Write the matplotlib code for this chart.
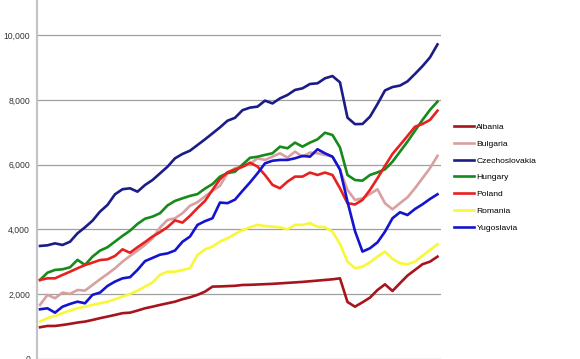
import matplotlib
matplotlib.use("Agg")
import matplotlib.pyplot as plt
from matplotlib.ticker import FuncFormatter

years = list(range(1950, 2004))

albania = [980, 1020, 1020, 1050, 1085, 1125, 1155, 1205, 1260, 1310,
           1360, 1415, 1430, 1495, 1565, 1615, 1670, 1720, 1770, 1845,
           1905, 1980, 2080, 2235, 2240, 2250, 2260, 2285, 2290, 2300,
           2310, 2320, 2335, 2350, 2365, 2380, 2400, 2420, 2440, 2460,
           2490, 1760, 1615, 1750, 1895, 2130, 2305, 2100, 2340, 2575,
           2750, 2925, 3005, 3160]
bulgaria = [1670, 1980, 1875, 2050, 2010, 2130, 2110, 2285, 2460, 2625,
            2800, 3005, 3180, 3345, 3520, 3720, 4060, 4290, 4345, 4500,
            4730, 4840, 5020, 5190, 5350, 5735, 5890, 5950, 6020, 6195,
            6145, 6245, 6350, 6215, 6400, 6245, 6370, 6350, 6300, 6245,
            5835, 5220, 4910, 4960, 5095, 5240, 4810, 4620, 4810, 4990,
            5270, 5580, 5890, 6270]
czechoslovakia = [3490, 3510, 3570, 3520, 3620, 3880, 4065, 4270, 4550, 4755,
                  5085, 5240, 5270, 5165, 5370, 5525, 5730, 5935, 6195, 6330,
                  6430, 6605, 6780, 6965, 7150, 7355, 7445, 7680, 7760, 7790,
                  7975, 7890, 8045, 8150, 8305, 8355, 8490, 8510, 8665, 8735,
                  8540, 7450, 7250, 7255, 7480, 7870, 8290, 8395, 8440, 8570,
                  8800, 9040, 9310, 9710]
hungary = [2440, 2665, 2750, 2770, 2830, 3060, 2905, 3160, 3345, 3450,
           3625, 3800, 3960, 4170, 4330, 4395, 4500, 4740, 4880, 4960,
           5035, 5090, 5260, 5400, 5630, 5740, 5780, 6000, 6210, 6245,
           6300, 6350, 6555, 6505, 6680, 6555, 6680, 6780, 6985, 6915,
           6530, 5680, 5525, 5505, 5680, 5760, 5855, 6090, 6400, 6710,
           7045, 7380, 7690, 7945]
poland = [2440, 2490, 2490, 2595, 2695, 2800, 2900, 2975, 3055, 3075,
          3180, 3385, 3280, 3450, 3610, 3780, 3915, 4070, 4280, 4210,
          4420, 4660, 4880, 5220, 5550, 5765, 5850, 5930, 6060, 5940,
          5680, 5375, 5270, 5475, 5630, 5630, 5755, 5680, 5755, 5680,
          5270, 4810, 4770, 4910, 5220, 5580, 5960, 6330, 6605, 6885,
          7170, 7255, 7380, 7665]
romania = [1155, 1260, 1330, 1415, 1495, 1565, 1615, 1670, 1720, 1770,
           1845, 1925, 2010, 2110, 2235, 2360, 2595, 2695, 2695, 2750,
           2800, 3210, 3385, 3470, 3625, 3725, 3860, 3975, 4065, 4140,
           4105, 4085, 4065, 4005, 4140, 4140, 4190, 4085, 4065, 3930,
           3550, 3005, 2800, 2850, 2985, 3160, 3315, 3090, 2955, 2925,
           3005, 3190, 3365, 3540]
yugoslavia = [1535, 1565, 1430, 1615, 1700, 1770, 1720, 1980, 2050, 2255,
              2390, 2490, 2525, 2750, 3020, 3120, 3220, 3260, 3350, 3620,
              3780, 4140, 4255, 4345, 4830, 4810, 4920, 5190, 5450, 5730,
              6040, 6120, 6145, 6145, 6195, 6270, 6245, 6475, 6350, 6245,
              5850, 4860, 3950, 3315, 3420, 3600, 3930, 4345, 4530, 4445,
              4630, 4775, 4940, 5085]

series = [
    ("Albania", albania, "#a8141c"),
    ("Bulgaria", bulgaria, "#d8a0a0"),
    ("Czechoslovakia", czechoslovakia, "#1c1c86"),
    ("Hungary", hungary, "#168a1a"),
    ("Poland", poland, "#e82020"),
    ("Romania", romania, "#f8f838"),
    ("Yugoslavia", yugoslavia, "#1414d0"),
]

plt.rcParams["font.family"] = ["Liberation Sans", "DejaVu Sans"]

fig = plt.figure(figsize=(5.8, 3.59), dpi=100)
ax = fig.add_axes([37 / 580, 0.0, (441 - 37) / 580, 1.0])

for name, vals, col in series:
    ax.plot(years, vals, color=col, lw=1.9, label=name, solid_joinstyle="round")

ax.set_xlim(1949.6, 2003.47)
ax.set_ylim(0, 11082)
ax.set_yticks([0, 2000, 4000, 6000, 8000, 10000])
ax.yaxis.set_major_formatter(FuncFormatter(lambda v, p: f"{int(v):,}"))
ax.tick_params(axis="y", length=0, pad=5, labelsize=6.2, labelcolor="#333333")
ax.set_xticks([])
ax.grid(axis="y", color="#a0a0a0", lw=0.9)
ax.set_axisbelow(True)

for s in ["top", "right", "bottom"]:
    ax.spines[s].set_visible(False)
ax.spines["left"].set_color("#c4c4c4")
ax.spines["left"].set_linewidth(1.6)

fig.legend(loc="upper left", bbox_to_anchor=(454 / 580, 1 - 123 / 359),
           frameon=False, fontsize=6.1, handlelength=2.4, handletextpad=0.25,
           labelspacing=1.05, borderaxespad=0, borderpad=0)

fig.savefig("out.png", dpi=100)
